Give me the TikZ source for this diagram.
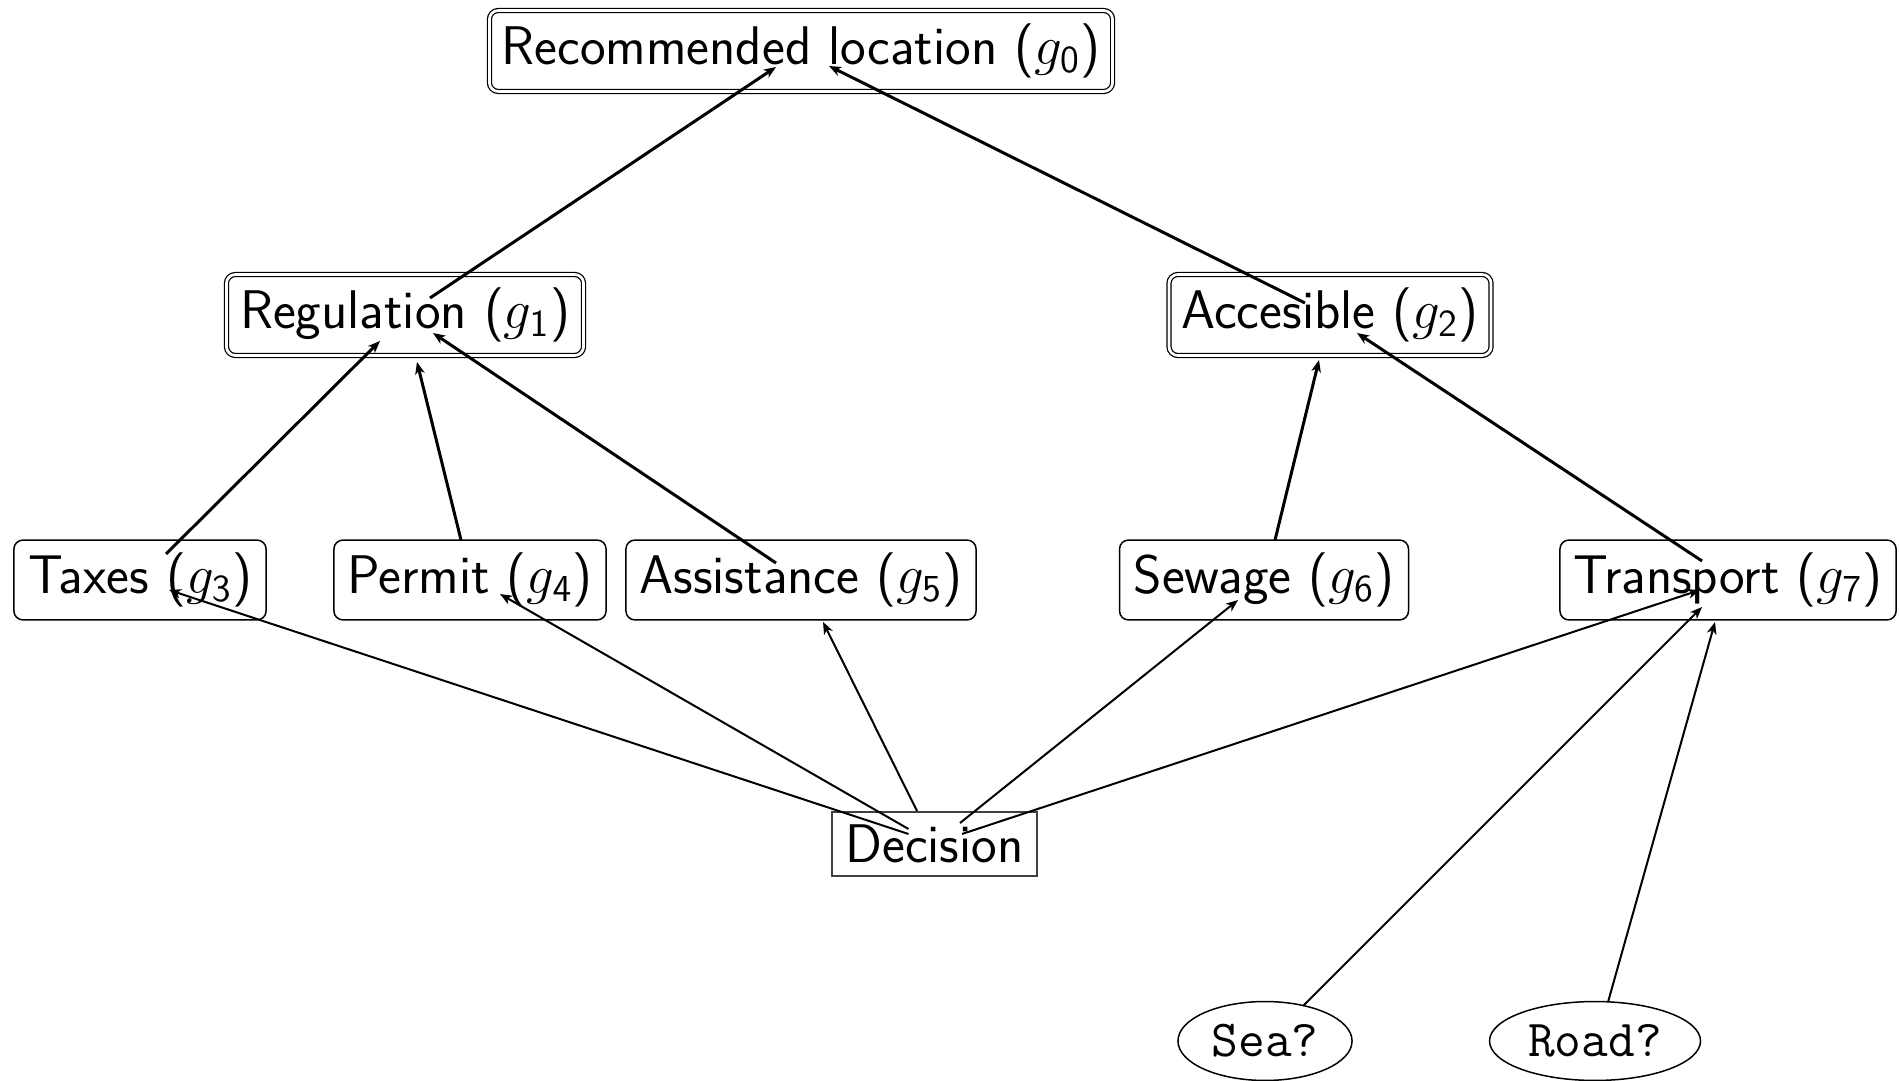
\documentclass[tikz,border=0pt]{standalone}
\usetikzlibrary{arrows.meta,shapes.geometric}
% goal label with a sans-serif index
\newcommand{\goalsym}[1]{$g_{\mathsf{#1}}$}
\begin{document}
\begin{tikzpicture}[x=0.3142pt,y=-0.3142pt,
  font=\sffamily\fontsize{17.1}{20}\selectfont,
  goalbox/.style={draw,rounded corners=2.8pt,line width=0.47pt,inner sep=0pt,minimum height=25.1pt},
  topgoal/.style={goalbox,double,double distance=0.86pt,line width=0.39pt,minimum height=25.45pt},
  choicebox/.style={draw=black!75,line width=0.47pt,inner sep=0pt,minimum width=64.4pt,minimum height=20.1pt},
  question/.style={draw,ellipse,line width=0.47pt,inner sep=0pt,font=\ttfamily\fontsize{16.3}{19}\selectfont,minimum height=24.8pt},
  tip/.style={-{Stealth[length=3.8pt,width=3pt,inset=1.1pt]}},
  strong/.style={tip,line width=0.94pt},
  weak/.style={tip,line width=0.63pt}
]
\useasboundingbox (0,0) rectangle (1899,1081);

% goals
\node[topgoal,minimum width=195.8pt] (g0) at (801,51) {Recommended location (\goalsym{0})};
\node[topgoal,minimum width=112.2pt] (g1) at (405,315) {Regulation (\goalsym{1})};
\node[topgoal,minimum width=101.2pt] (g2) at (1330,315) {Accesible (\goalsym{2})};
\node[goalbox,minimum width=79.2pt] (g3) at (140,580) {Taxes (\goalsym{3})};
\node[goalbox,minimum width=85.5pt] (g4) at (470,580) {Permit (\goalsym{4})};
\node[goalbox,minimum width=110pt] (g5) at (801,580) {Assistance (\goalsym{5})};
\node[goalbox,minimum width=90.8pt] (g6) at (1264,580) {Sewage (\goalsym{6})};
\node[goalbox,minimum width=105.6pt] (g7) at (1728,580) {Transport (\goalsym{7})};

% decision and questions
\node[choicebox] (dec) at (934.5,844) {Decision};
\node[question,minimum width=54.7pt] (sea) at (1265,1041) {Sea?};
\node[question,minimum width=66.3pt] (road) at (1595,1041) {Road?};

% contributions between goals
\draw[strong] ([shift={(25,-17)}]g1.center) -- ([shift={(-25,16)}]g0.center);
\draw[strong] ([shift={(-25,-12)}]g2.center) -- ([shift={(28,15)}]g0.center);
\draw[strong] ([shift={(26,-26)}]g3.center) -- ([shift={(-25,26)}]g1.center);
\draw[strong] ([shift={(-9,-40)}]g4.center) -- ([shift={(12,47)}]g1.center);
\draw[strong] ([shift={(-25,-17)}]g5.center) -- ([shift={(28,18)}]g1.center);
\draw[strong] ([shift={(11,-40)}]g6.center) -- ([shift={(-11,45)}]g2.center);
\draw[strong] ([shift={(-26,-19)}]g7.center) -- ([shift={(27,18)}]g2.center);

% decision influences
\draw[weak] ([shift={(-26,-10)}]dec.center) -- ([shift={(29,10)}]g3.center);
\draw[weak] ([shift={(-26,-15)}]dec.center) -- ([shift={(30,14)}]g4.center);
\draw[weak] ([shift={(-17.5,-33)}]dec.center) -- ([shift={(22,42)}]g5.center);
\draw[weak] ([shift={(25.5,-21)}]dec.center) -- ([shift={(-26,20)}]g6.center);
\draw[weak] ([shift={(27.5,-10)}]dec.center) -- ([shift={(-28,10)}]g7.center);

% context questions
\draw[weak] ([shift={(38,-35)}]sea.center) -- ([shift={(-26,27)}]g7.center);
\draw[weak] ([shift={(13,-39)}]road.center) -- ([shift={(-13,42)}]g7.center);
\end{tikzpicture}
\end{document}
